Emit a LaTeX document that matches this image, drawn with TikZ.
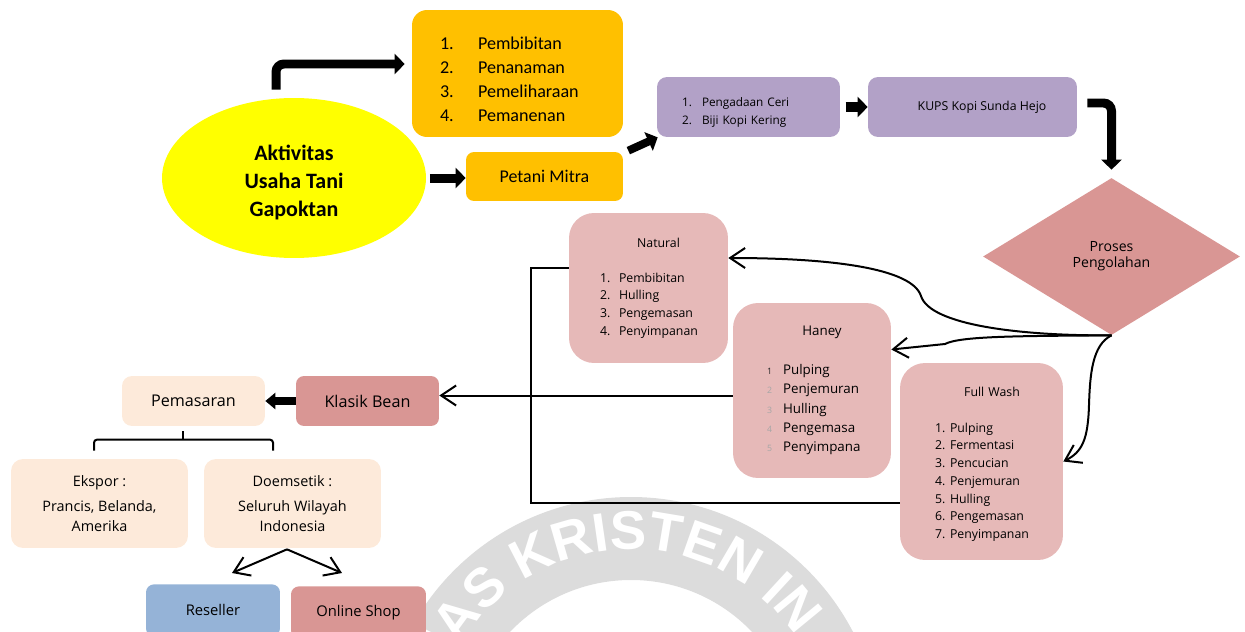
\documentclass[tikz,border=0pt]{standalone}
\usepackage{fontspec}
\setmainfont{Carlito}
\newfontfamily\segoe{Open Sans}
\newfontfamily\wmfont{Liberation Sans}
\usepackage{tikz}
\usetikzlibrary{shapes.geometric,arrows.meta,decorations.text}
\definecolor{kuning}{HTML}{FFFF00}
\definecolor{oranye}{HTML}{FFC000}
\definecolor{ungu}{HTML}{B2A1C7}
\definecolor{merahmuda}{HTML}{E6B9B8}
\definecolor{merah}{HTML}{D99694}
\definecolor{krem}{HTML}{FDEADA}
\definecolor{biru}{HTML}{95B3D7}
\definecolor{abu}{HTML}{DCDCDC}
\newcommand{\ukuran}[2]{\fontsize{#1}{#2}\selectfont}
\newcommand{\wmgaya}{\wmfont\bfseries\fontsize{31}{31}\selectfont}
\newcommand{\nomor}[2]{\makebox[#1][l]{#2}}

\begin{document}
\begin{tikzpicture}[x=0.02cm,y=-0.02cm,
	kotak/.style={rounded corners=#1, inner sep=0pt, align=center},
	kotak/.default=0.2cm,
	blok/.style={line width=0.18cm, -{Triangle[length=0.2cm,width=0.4cm]}},
	panah/.style={line width=0.04cm, -{Straight Barb[length=0.3cm,width=0.4cm]}},
	garis/.style={line width=0.03cm}]
		\useasboundingbox (0,0) rectangle (1245,632);
		\clip (0,0) rectangle (1245,632);

		\begin{scope}[shift={(631,747)}, y=0.02cm]
			\fill[abu, even odd rule] (0,0) circle[radius=250] (0,0) circle[radius=167];
			\path[decorate, decoration={text along path, text color=white,
				text={|\wmgaya|TAS KRISTEN IN}}]
				(159:198) arc[start angle=159, end angle=-20, radius=198];
		\end{scope}

		\node[ellipse, fill=kuning, minimum width=5.28cm, minimum height=3.2cm, inner sep=0pt, align=center, font=\bfseries\ukuran{12.5}{16}] (akt) at (294,178) {\rule{0pt}{0.49cm}Aktivitas\\Usaha Tani\\Gapoktan};
		\node[kotak=0.3cm, fill=oranye, minimum width=4.22cm, minimum height=2.54cm, text width=3.1cm, align=left, font=\ukuran{10.3}{13.6}] (tahap) at (517.5,73.5)
			{\rule{0pt}{0.47cm}\nomor{0.76cm}{1.}Pembibitan\\\nomor{0.76cm}{2.}Penanaman\\\nomor{0.76cm}{3.}Pemeliharaan\\\nomor{0.76cm}{4.}Pemanenan};
		\node[kotak=0.16cm, fill=oranye, minimum width=3.14cm, minimum height=0.98cm, font=\ukuran{10.2}{12}] (petani) at (544.5,176.5) {\raisebox{-0.07cm}{Petani Mitra}};
		\node[kotak, fill=ungu, minimum width=3.66cm, minimum height=1.2cm, text width=2.66cm, align=left, font=\segoe\ukuran{6.7}{10.2}] (ceri) at (748.5,107)
			{\rule{0pt}{0.38cm}\nomor{0.4cm}{1.}Pengadaan Ceri\\\nomor{0.4cm}{2.}Biji Kopi Kering};
		\node[kotak, fill=ungu, minimum width=4.18cm, minimum height=1.2cm, font=\segoe\ukuran{7}{9}] (kups) at (972.5,107) {\hspace{0.38cm}\raisebox{-0.05cm}{KUPS Kopi Sunda Hejo}};
		\node[diamond, fill=merah, minimum width=5.14cm, minimum height=3.14cm, inner sep=0pt, align=center, font=\segoe\ukuran{8}{9.1}] (olah) at (1111.5,256.5) {Proses\\Pengolahan};

		\node[kotak=0.5cm, fill=merahmuda, minimum width=3.18cm, minimum height=3cm, text width=1.94cm, align=left, font=\segoe\ukuran{7}{10}] (natural) at (648.5,288)
			{\makebox[1.94cm][c]{\hspace{0.4cm}Natural}\\[10pt]\nomor{0.38cm}{1.}Pembibitan\\\nomor{0.38cm}{2.}Hulling\\\nomor{0.38cm}{3.}Pengemasan\\\nomor{0.38cm}{4.}Penyimpanan};
		\node[kotak=0.5cm, fill=merahmuda, minimum width=3.16cm, minimum height=3.5cm, text width=1.8cm, align=left, font=\segoe\ukuran{7.6}{11.05}] (haney) at (812,390.5)
			{\makebox[1.8cm][c]{\hspace{0.4cm}Haney}\\[11.05pt]\nomor{0.32cm}{\ukuran{5}{5}\color{black!85}1}Pulping\\\nomor{0.32cm}{\ukuran{5}{5}\color{black!35}2}Penjemuran\\\nomor{0.32cm}{\ukuran{5}{5}\color{black!35}3}Hulling\\\nomor{0.32cm}{\ukuran{5}{5}\color{black!35}4}Pengemasa\\\nomor{0.32cm}{\ukuran{5}{5}\color{black!35}5}Penyimpana};
		\node[kotak=0.5cm, fill=merahmuda, minimum width=3.26cm, minimum height=3.94cm, text width=1.86cm, align=left, font=\segoe\ukuran{7}{10.1}] (fullwash) at (981.5,461.5)
			{\rule{0pt}{0.3cm}\makebox[1.86cm][c]{\hspace{0.42cm}Full Wash}\\[10.1pt]\nomor{0.3cm}{1.}Pulping\\\nomor{0.3cm}{2.}Fermentasi\\\nomor{0.3cm}{3.}Pencucian\\\nomor{0.3cm}{4.}Penjemuran\\\nomor{0.3cm}{5.}Hulling\\\nomor{0.3cm}{6.}Pengemasan\\\nomor{0.3cm}{7.}Penyimpanan};

		\node[kotak=0.16cm, fill=merah, minimum width=2.86cm, minimum height=1cm, font=\segoe\ukuran{9.2}{11}] (klasik) at (367.5,401) {Klasik Bean};
		\node[kotak=0.2cm, fill=krem, minimum width=2.86cm, minimum height=1cm, font=\segoe\ukuran{9.2}{11}] (pemasaran) at (193.5,401) {Pemasaran};
		\node[kotak=0.24cm, fill=krem, minimum width=3.54cm, minimum height=1.78cm, font=\segoe\ukuran{8.2}{11.3}] (ekspor) at (99.5,503.5) {Ekspor :\\[0.12cm]Prancis, Belanda,\\Amerika};
		\node[kotak=0.24cm, fill=krem, minimum width=3.54cm, minimum height=1.78cm, font=\segoe\ukuran{8.2}{11.3}] (domestik) at (292.5,503.5) {Doemsetik :\\[0.12cm]Seluruh Wilayah\\Indonesia};
		\node[kotak=0.16cm, fill=biru, anchor=north, minimum width=2.68cm, minimum height=1.04cm, font=\segoe\ukuran{8.4}{10}] (reseller) at (213,584) {Reseller};
		\node[kotak=0.16cm, fill=merah, anchor=north, minimum width=2.7cm, minimum height=1.04cm, font=\segoe\ukuran{8.4}{10}] (online) at (358.5,586) {Online Shop};

		\draw[blok, rounded corners=0.16cm] ([shift={(-18,-8)}]akt.north) |- ([shift={(-7,-9.5)}]tahap.west);
		\draw[blok, shorten <=2pt] (akt.east) -- (akt.east -| petani.west);
		\draw[blok, line width=0.16cm] ([shift={(5,-1)}]petani.north east) -- ([shift={(1,0)}]ceri.south west);
		\draw[blok, line width=0.2cm, shorten <=3pt] (ceri.east) -- (kups.west);
		\draw[blok, rounded corners=0.16cm] ([shift={(10,-4)}]kups.east) -| ([yshift=0.16cm]olah.north);

		\draw[panah] (olah.south) .. controls (1020,336) and (930,325) .. (921,296) .. controls (912,268) and (830,258) .. ([yshift=0.6cm]natural.east);
		\draw[panah] (olah.south) .. controls (1020,336) and (960,336) .. (945,344) -- ([yshift=0.82cm]haney.east);
		\draw[panah] (olah.south) .. controls (1092,345) and (1090,375) .. (1089,405) .. controls (1088,440) and (1082,452) .. (fullwash.east);
		\draw[panah] ([yshift=-0.1cm]haney.west) -- ([yshift=-0.1cm]haney.west -| klasik.east);

		\coordinate (sudut) at (531,503);
		\draw[garis] ([yshift=0.4cm]natural.west) -| (sudut) -- (sudut -| fullwash.west);

		\draw[blok, line width=0.16cm, -{Triangle[length=0.2cm,width=0.32cm]}] (klasik.west) -- (pemasaran.east);
		\draw[garis, line width=0.04cm, rounded corners=0.06cm] ([shift={(-5.5,-8)}]ekspor.north) -- ++(0,-11) -| ([shift={(-19.5,-8)}]domestik.north);
		\draw[garis, line width=0.04cm] ([shift={(-10.5,5)}]pemasaran.south) -- ++(0,9);
		\draw[panah] ([shift={(-5.5,1)}]domestik.south) -- ([shift={(19,-11)}]reseller.north);
		\draw[panah] ([shift={(-5.5,1)}]domestik.south) -- ([shift={(-16.5,-13)}]online.north);
	\end{tikzpicture}
\end{document}
